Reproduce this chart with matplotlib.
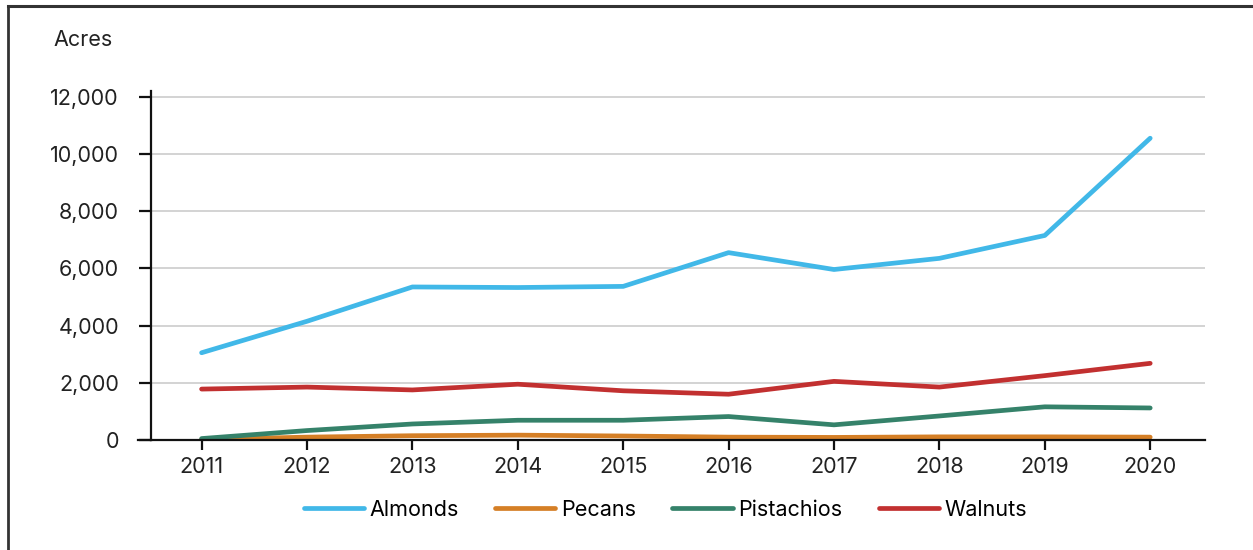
import matplotlib
matplotlib.use("Agg")
import matplotlib.pyplot as plt
from matplotlib.lines import Line2D

plt.rcParams['font.family'] = ['Inter', 'DejaVu Sans']

years = [2011, 2012, 2013, 2014, 2015, 2016, 2017, 2018, 2019, 2020]
almonds = [3050, 4150, 5350, 5330, 5370, 6550, 5960, 6350, 7150, 10550]
pecans = [20, 100, 150, 170, 140, 100, 90, 110, 110, 100]
pistachios = [50, 330, 560, 690, 690, 820, 530, 840, 1160, 1120]
walnuts = [1780, 1850, 1750, 1950, 1720, 1600, 2050, 1850, 2250, 2680]

series = [("Almonds", almonds, "#41b8e8"),
          ("Pecans", pecans, "#d57f26"),
          ("Pistachios", pistachios, "#35826a"),
          ("Walnuts", walnuts, "#c23030")]

fs = 15.5

fig = plt.figure(figsize=(12.53, 5.5), dpi=100)
ax = fig.add_axes([151/1253, 1 - 440/550, (1205 - 151)/1253, (440 - 91)/550])

for name, vals, col in series:
    ax.plot(years, vals, color=col, lw=3.4, solid_capstyle='round',
            solid_joinstyle='round', label=name)

ax.set_xlim(2010.52, 2020.52)
ax.set_ylim(0, 12200)
ax.set_xticks(years)
ax.set_yticks(range(0, 12001, 2000))
ax.set_yticklabels([f"{v:,}" for v in range(0, 12001, 2000)])

ax.grid(axis='y', color='#cccccc', lw=1.2)
ax.set_axisbelow(True)
for s in ['top', 'right']:
    ax.spines[s].set_visible(False)
for s in ['left', 'bottom']:
    ax.spines[s].set_linewidth(1.6)
    ax.spines[s].set_color('#111111')
ax.tick_params(axis='y', length=9, width=1.6, pad=14, labelsize=fs, colors='#111111', labelcolor='#222222')
ax.tick_params(axis='x', length=7.5, width=1.6, pad=5, labelsize=fs, colors='#111111', labelcolor='#222222')

# x-axis line runs a little past the y-axis on the left
ax.plot([-0.012, 0], [0, 0], transform=ax.transAxes, color='#111111', lw=1.6, clip_on=False)

fig.text(53/1253, 1 - 40/550, "Acres", fontsize=fs, color='#222222', va='center', ha='left')

fig.legend(loc='center', bbox_to_anchor=(0.531, 1 - 510/550), ncol=4, frameon=False,
           fontsize=fs, handlelength=2.8, handletextpad=0.25, columnspacing=1.7)

# outer frame (top and left edges)
fig.add_artist(Line2D([8/1253, 8/1253], [0, 1 - 6/550], color='#333333', lw=2, transform=fig.transFigure))
fig.add_artist(Line2D([8/1253, 1], [1 - 6/550, 1 - 6/550], color='#333333', lw=2.2, transform=fig.transFigure))

fig.savefig("out.png", dpi=100)
